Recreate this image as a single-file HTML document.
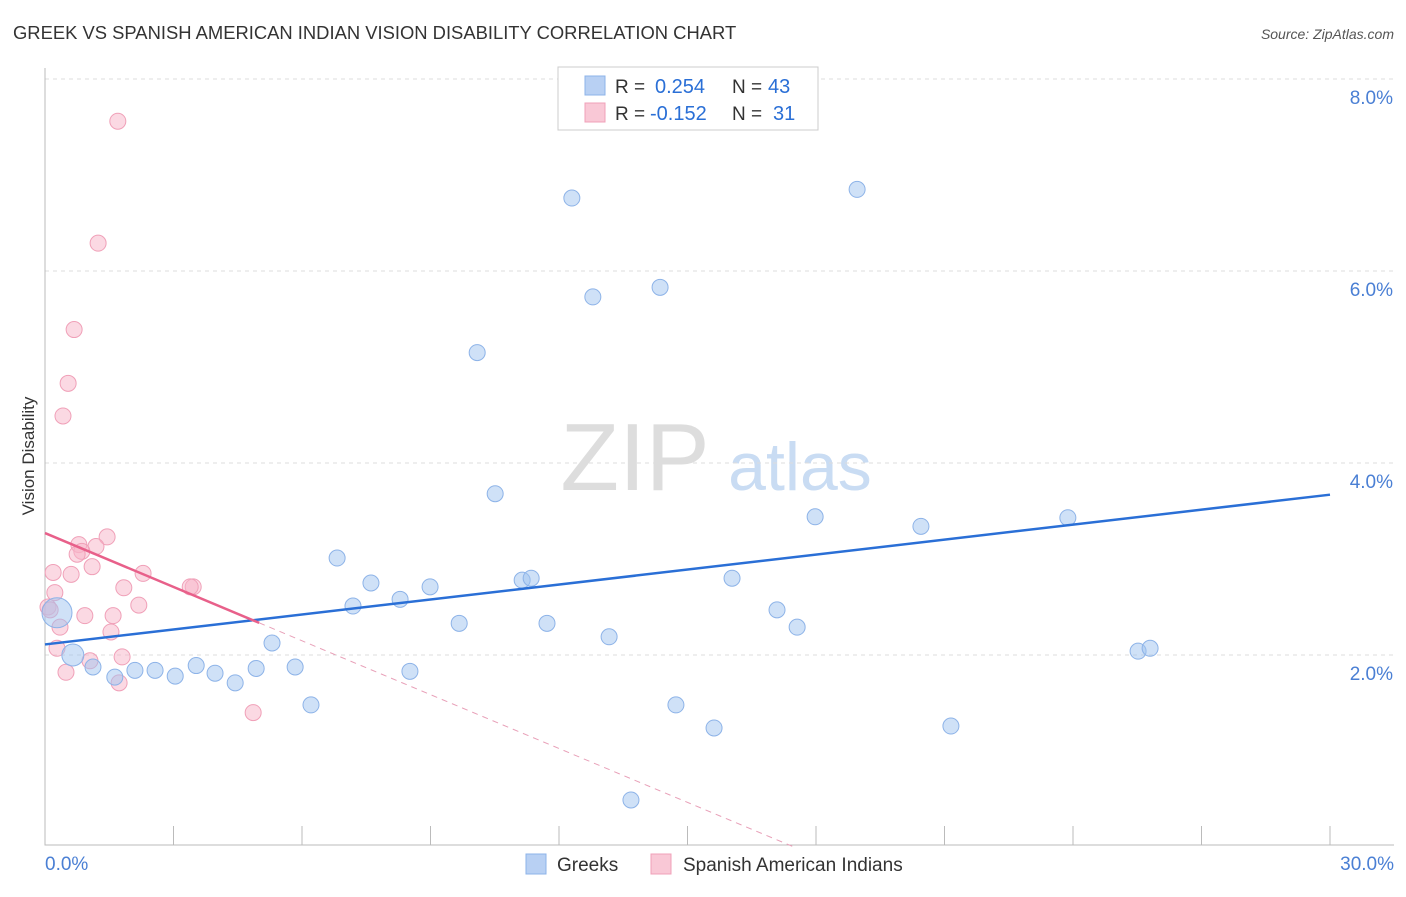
<!DOCTYPE html>
<html><head><meta charset="utf-8"><style>
body{margin:0;background:#fff;font-family:"Liberation Sans",sans-serif;}
svg text{font-family:"Liberation Sans",sans-serif;}
</style></head><body>
<svg id="chart" width="1406" height="892" xmlns="http://www.w3.org/2000/svg">
<text x="13" y="39" font-size="18.4" fill="#333">GREEK VS SPANISH AMERICAN INDIAN VISION DISABILITY CORRELATION CHART</text>
<text x="1394" y="39" font-size="14" fill="#555" font-style="italic" text-anchor="end">Source: ZipAtlas.com</text>
<g>
<text x="635" y="490" font-size="96" fill="#ddd" font-family="Liberation Serif" text-anchor="middle">ZIP</text>
<text x="800" y="490" font-size="68" fill="#c9dcf3" text-anchor="middle">atlas</text>
</g>
<g id="grid"></g>
<g id="axes"></g>
<g id="marks"></g>
<text transform="translate(34,456) rotate(-90)" font-size="17" fill="#333" text-anchor="middle">Vision Disability</text>
<g>
<rect x="558" y="67" width="260" height="63" fill="#fff" stroke="#ccc"/>
<rect x="585" y="76" width="20" height="19" fill="#b8d0f3" stroke="#8db3e8"/>
<text x="615" y="93" font-size="19" fill="#333">R =</text>
<text x="655" y="93" font-size="20" fill="#2a6fd6">0.254</text>
<text x="732" y="93" font-size="19" fill="#333">N =</text>
<text x="768" y="93" font-size="20" fill="#2a6fd6">43</text>
<rect x="585" y="103" width="20" height="19" fill="#f9c8d6" stroke="#f0a0b8"/>
<text x="615" y="120" font-size="19" fill="#333">R =</text>
<text x="650" y="120" font-size="20" fill="#2a6fd6">-0.152</text>
<text x="732" y="120" font-size="19" fill="#333">N =</text>
<text x="773" y="120" font-size="20" fill="#2a6fd6">31</text>
</g>
<g>
<rect x="526" y="854" width="20" height="20" fill="#b8d0f3" stroke="#8db3e8"/>
<text x="557" y="871" font-size="19" fill="#333">Greeks</text>
<rect x="651" y="854" width="20" height="20" fill="#f9c8d6" stroke="#f0a0b8"/>
<text x="683" y="871" font-size="19" fill="#333">Spanish American Indians</text>
</g>
</svg>
<script>
const greekX=[0.28,0.65,1.12,1.63,2.10,2.57,3.04,3.53,3.97,4.44,4.93,5.30,5.84,6.21,6.82,7.19,7.61,8.29,8.52,8.99,9.67,10.09,10.51,11.14,11.35,11.72,12.30,12.79,13.17,13.68,14.36,14.73,15.62,16.04,17.09,17.56,17.98,18.96,20.45,21.15,23.88,25.52,25.80];
const greekY=[2.44,2.00,1.875,1.77,1.84,1.84,1.78,1.89,1.81,1.71,1.86,2.125,1.875,1.48,3.01,2.51,2.75,2.58,1.83,2.71,2.33,5.15,3.68,2.78,2.80,2.33,6.76,5.73,2.19,0.49,5.83,1.48,1.24,2.80,2.47,2.29,3.44,6.85,3.34,1.26,3.43,2.04,2.07];
const spanX=[1.70,1.24,0.68,0.54,0.42,1.45,1.19,0.79,0.86,0.75,1.10,0.19,0.61,2.29,1.84,3.46,3.39,0.23,0.07,2.19,0.93,1.59,0.35,1.54,0.28,1.80,1.05,0.49,1.73,4.86,0.12];
const spanY=[7.56,6.29,5.39,4.83,4.49,3.23,3.13,3.15,3.08,3.05,2.92,2.86,2.84,2.85,2.70,2.71,2.71,2.65,2.50,2.52,2.41,2.41,2.29,2.24,2.07,1.98,1.94,1.82,1.71,1.40,2.47];
const yTicks=[2,4,6,8];
const yTickLabels=["2.0%","4.0%","6.0%","8.0%"];
const xTicks=[0,3,6,9,12,15,18,21,24,27,30];
const greekTrend=[2.11,3.67];
const spanTrend=[3.27,-0.187];
const sx=v=>45+v*42.833, sy=v=>847-v*96;
const NS="http://www.w3.org/2000/svg";
function mk(p,t,a){const e=document.createElementNS(NS,t);for(const k in a)e.setAttribute(k,a[k]);document.getElementById(p).appendChild(e);return e;}
yTicks.forEach((t,i)=>{
 const g=mk('grid','line',{x1:45,x2:1394,y1:sy(t),y2:sy(t),stroke:'#ddd','stroke-dasharray':'4,4'});
 
 
 const l=mk('axes','text',{x:1393,y:sy(t)+25,'font-size':19,fill:'#4a7fd4','text-anchor':'end'});
 l.textContent=yTickLabels[i];
 
 
});
const ax=mk('axes','path',{d:'M45,68V845H1394',stroke:'#bbb',fill:'none'});


xTicks.forEach(t=>{const k=mk('axes','line',{x1:sx(t),x2:sx(t),y1:826,y2:845,stroke:'#bbb'});
 
 });
[[0,"0.0%",'start',45],[30,"30.0%",'end',1394]].forEach(d=>{const l=mk('axes','text',{x:d[3],y:870,'font-size':19,fill:'#4a7fd4','text-anchor':d[2]});l.textContent=d[1];
 
 });
spanX.forEach((x,i)=>{const c=mk('marks','circle',{cx:sx(x),cy:sy(spanY[i]),r:8,fill:'rgba(248,180,200,0.5)',stroke:'#f0a0b8'});
 
 });
greekX.forEach((x,i)=>{const r=i==0?15:(i==1?11:8);const c=mk('marks','circle',{cx:sx(x),cy:sy(greekY[i]),r:r,fill:'rgba(160,195,240,0.5)',stroke:'#8db3e8'});
 
 });
const bl=mk('marks','line',{x1:sx(0),y1:sy(greekTrend[0]),x2:sx(30),y2:sy(greekTrend[1]),stroke:'#2a6fd6','stroke-width':2.5});


const pf=x=>spanTrend[0]+spanTrend[1]*x, xEnd=-spanTrend[0]/spanTrend[1];
const pl=mk('marks','line',{x1:sx(0),y1:sy(pf(0)),x2:sx(5),y2:sy(pf(5)),stroke:'#e8608a','stroke-width':2.5});


const pd=mk('marks','line',{x1:sx(5),y1:sy(pf(5)),x2:sx(xEnd),y2:sy(0),stroke:'#e8a0b8','stroke-width':1,'stroke-dasharray':'6,5'});


</script>
</body></html>
